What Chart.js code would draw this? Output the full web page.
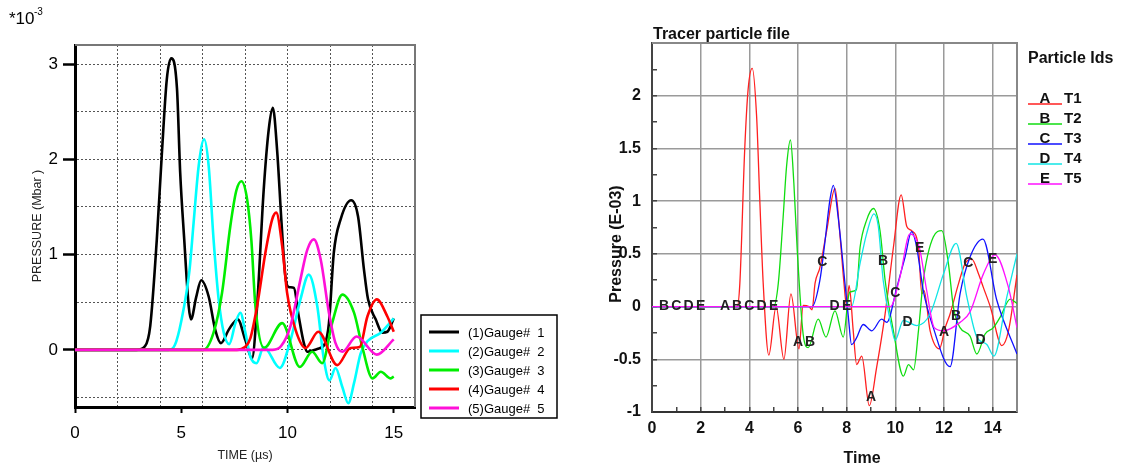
<!DOCTYPE html>
<html>
<head>
<meta charset="utf-8">
<script src="https://cdn.jsdelivr.net/npm/chart.js@4.4.1/dist/chart.umd.min.js"></script>
<style>
  html, body { margin: 0; padding: 0; background: #fff; }
  #wrap { position: relative; width: 1121px; height: 469px; overflow: hidden; }
  #left  { position: absolute; left: 0;     top: 0; }
  #right { position: absolute; left: 570px; top: 0; }
</style>
</head>
<body>
<div id="wrap">
  <canvas id="left" width="570" height="469"></canvas>
  <canvas id="right" width="551" height="469"></canvas>
</div>
<script>
// ============================================
// DATA - LEFT PANEL (gauge pressure, *10^-3 Mbar vs time in µs)
// ============================================
const gaugeLabels = ['(1)Gauge#  1', '(2)Gauge#  2', '(3)Gauge#  3', '(4)Gauge#  4', '(5)Gauge#  5'];
const gaugeColors = ['#000000', '#00ffff', '#00ee00', '#ff0000', '#ff10d8'];

const g1Time = [0, 2.9, 3.3, 3.54, 3.85, 4.08, 4.32, 4.53, 4.8, 4.95, 5.14, 5.35, 5.46, 5.7, 5.94, 6.29, 6.6, 6.87, 7.23, 7.45, 7.66, 8.02, 8.33, 8.57, 8.88, 9.12, 9.31, 9.51, 9.72, 9.9, 10.05, 10.3, 10.53, 10.77, 10.93, 11.4, 11.75, 11.95, 12.18, 12.5, 13.0, 13.32, 13.6, 13.79, 14.15, 14.46, 14.7, 15.0];
const g1Pres = [0, 0, 0.04, 0.25, 1.16, 2.03, 2.84, 3.06, 2.74, 1.86, 1.16, 0.46, 0.32, 0.55, 0.73, 0.56, 0.21, 0.07, 0.21, 0.28, 0.32, 0.1, -0.09, 0.46, 1.68, 2.32, 2.54, 2.1, 1.33, 0.77, 0.66, 0.65, 0.35, 0.07, -0.02, 0.01, 0.06, 0.28, 1.02, 1.37, 1.57, 1.4, 0.84, 0.53, 0.32, 0.18, 0.19, 0.33];

const g2Time = [0, 4.4, 4.7, 5.0, 5.39, 5.58, 5.82, 6.08, 6.29, 6.52, 6.76, 7.0, 7.26, 7.55, 7.78, 8.02, 8.25, 8.54, 8.88, 9.64, 10.14, 10.61, 11.0, 11.4, 11.71, 11.98, 12.26, 12.58, 12.86, 13.13, 13.44, 13.76, 14.39, 15.0];
const g2Pres = [0, 0, 0.05, 0.3, 0.84, 1.33, 1.93, 2.21, 1.93, 1.16, 0.53, 0.18, 0.06, 0.28, 0.39, 0.18, -0.07, -0.14, 0.03, -0.19, 0.1, 0.53, 0.79, 0.46, -0.1, -0.32, -0.19, -0.39, -0.56, -0.35, -0.04, 0.09, 0.18, 0.33];

const g3Time = [0, 6.04, 6.52, 6.92, 7.31, 7.59, 7.83, 8.1, 8.3, 8.49, 8.9, 9.75, 10.58, 11.16, 11.63, 12.1, 12.58, 13.13, 13.52, 14.0, 14.39, 14.86, 15.0];
const g3Pres = [0, 0, 0.18, 0.6, 1.3, 1.67, 1.77, 1.58, 1.15, 0.46, 0.02, 0.28, -0.18, -0.02, -0.14, 0.28, 0.58, 0.39, 0.03, -0.3, -0.23, -0.3, -0.28];

const g4Time = [0, 7.62, 8.0, 8.25, 8.57, 8.96, 9.28, 9.47, 9.75, 9.98, 10.38, 10.85, 11.45, 12.34, 12.97, 13.4, 13.76, 14.2, 14.7, 15.0];
const g4Pres = [0, 0, 0.03, 0.12, 0.46, 1.02, 1.37, 1.44, 1.09, 0.6, 0.21, 0.02, 0.19, -0.16, 0.02, 0.03, 0.35, 0.53, 0.35, 0.19];

const g5Time = [0, 9.3, 9.7, 10.14, 10.61, 10.93, 11.24, 11.56, 11.95, 12.26, 12.58, 13.25, 14.2, 15.0];
const g5Pres = [0, 0, 0.04, 0.25, 0.74, 1.05, 1.16, 0.95, 0.39, 0.07, -0.02, 0.14, -0.05, 0.11];

// ============================================
// DATA - RIGHT PANEL (tracer particles, pressure E-03 vs time)
// ============================================
const tracerIds     = ['T1', 'T2', 'T3', 'T4', 'T5'];
const tracerLetters = ['A', 'B', 'C', 'D', 'E'];
const tracerColors  = ['#ff2020', '#10dd10', '#1010ff', '#10e5e5', '#ff10ff'];

const t1Time = [0, 3.5, 3.61, 3.81, 3.95, 4.12, 4.3, 4.43, 4.57, 4.8, 5.1, 5.42, 5.71, 6.04, 6.21, 6.45, 6.58, 6.7, 6.9, 7.18, 7.52, 7.72, 7.89, 8.0, 8.1, 8.27, 8.41, 8.62, 8.93, 9.23, 9.58, 9.92, 10.24, 10.47, 10.67, 10.95, 11.09, 11.18, 11.43, 11.81, 12.05, 12.25, 12.6, 12.87, 13.14, 13.42, 13.62, 13.9, 14.38, 14.65, 15.0];
const t1Pres = [0, 0, 0.22, 1.49, 2.06, 2.26, 1.8, 1.01, 0.22, -0.46, 0.0, -0.5, 0.12, -0.4, 0.01, 0.0, -0.03, 0.22, 0.37, 0.72, 1.12, 0.69, 0.22, 0.0, 0.2, -0.23, -0.55, -0.47, -0.94, -0.58, -0.07, 0.56, 1.06, 0.76, 0.72, 0.56, 0.12, 0.15, -0.23, -0.4, -0.2, -0.07, 0.22, 0.41, 0.45, 0.31, 0.18, 0.0, -0.37, -0.23, 0.3];

const t2Time = [0, 5.0, 5.19, 5.39, 5.53, 5.69, 5.83, 5.97, 6.21, 6.42, 6.83, 7.15, 7.52, 7.86, 8.07, 8.14, 8.4, 8.55, 8.82, 9.1, 9.37, 9.58, 9.92, 10.33, 10.54, 10.75, 10.95, 11.15, 11.56, 11.91, 12.18, 12.39, 12.66, 13.07, 13.35, 13.69, 14.03, 14.31, 14.72, 15.0];
const t2Pres = [0, 0, 0.22, 0.85, 1.33, 1.58, 1.17, 0.53, -0.26, -0.39, -0.12, -0.29, -0.04, -0.29, 0.09, 0.14, 0.16, 0.56, 0.82, 0.93, 0.72, 0.25, -0.23, -0.66, -0.55, -0.6, -0.23, 0.25, 0.66, 0.72, 0.41, -0.01, -0.2, -0.28, -0.45, -0.26, -0.2, -0.1, 0.07, 0.03];

const t3Time = [0, 6.58, 6.9, 7.1, 7.31, 7.45, 7.65, 7.93, 8.07, 8.2, 8.4, 8.68, 9.03, 9.44, 9.65, 10.06, 10.4, 10.67, 10.88, 11.15, 11.56, 12.25, 12.66, 13.07, 13.6, 14.17, 15.0];
const t3Pres = [0, 0, 0.25, 0.6, 1.01, 1.15, 0.85, 0.22, -0.1, -0.36, -0.3, -0.17, -0.23, -0.12, -0.15, 0.18, 0.47, 0.71, 0.56, 0.15, -0.2, -0.57, 0.12, 0.47, 0.64, 0.06, -0.45];

const t4Time = [0, 8.2, 8.55, 8.82, 9.12, 9.3, 9.5, 9.85, 9.99, 10.33, 10.88, 11.43, 11.98, 12.5, 12.94, 13.35, 13.76, 14.05, 14.58, 15.0];
const t4Pres = [0, 0, 0.41, 0.69, 0.88, 0.76, 0.25, -0.2, -0.32, -0.13, -0.18, -0.07, 0.31, 0.6, 0.09, -0.29, -0.36, -0.47, 0.09, 0.5];

const t5Time = [0, 9.8, 10.19, 10.6, 10.8, 11.0, 11.29, 11.6, 11.98, 12.66, 13.07, 13.62, 14.1, 14.65, 15.0];
const t5Pres = [0, 0, 0.28, 0.69, 0.66, 0.55, 0.15, -0.2, -0.23, -0.15, -0.05, 0.31, 0.49, 0.18, -0.2];

// times at which each particle's id letter is printed on its curve
const markA = [3, 6, 9, 12];
const markB = [0.5, 3.5, 6.5, 9.5, 12.5];
const markC = [1, 4, 7, 10, 13];
const markD = [1.5, 4.5, 7.5, 10.5, 13.5];
const markE = [2, 5, 8, 11, 14];

// ============================================
// HELPERS
// ============================================
const FONT = 'Liberation Sans, Arial, sans-serif';
Chart.defaults.font.family = FONT;

const toPoints = (t, p) => t.map((x, i) => ({ x, y: p[i] }));
const isHalf = v => Math.abs(v * 2 - Math.round(v * 2)) < 1e-6;

function valueAt(points, t) {
  for (let k = 1; k < points.length; k++) {
    if (points[k].x >= t) {
      const a = points[k - 1], b = points[k];
      return a.y + (b.y - a.y) * (t - a.x) / (b.x - a.x);
    }
  }
  return points[points.length - 1].y;
}

// ============================================
// 1. LEFT PANEL: GAUGE HISTORIES
// ============================================
const gaugeSeries = [
  toPoints(g1Time, g1Pres), toPoints(g2Time, g2Pres), toPoints(g3Time, g3Pres),
  toPoints(g4Time, g4Pres), toPoints(g5Time, g5Pres)
];

const leftDecor = {
  id: 'leftDecor',
  beforeDatasetsDraw(chart) {
    const { ctx, chartArea: a } = chart;
    ctx.save();
    ctx.strokeStyle = '#777';
    ctx.lineWidth = 2;
    ctx.beginPath();
    ctx.moveTo(a.left, a.top);
    ctx.lineTo(a.right, a.top);
    ctx.lineTo(a.right, a.bottom);
    ctx.stroke();
    ctx.restore();
  },
  afterDraw(chart) {
    const ctx = chart.ctx;
    ctx.save();
    // exponent note
    ctx.fillStyle = '#000';
    ctx.textBaseline = 'alphabetic';
    ctx.font = `17px ${FONT}`;
    ctx.fillText('*10', 9, 24);
    ctx.font = `10px ${FONT}`;
    ctx.fillText('-3', 34, 15);

    // legend box
    ctx.fillStyle = '#fff';
    ctx.fillRect(421, 315, 136, 103);
    ctx.strokeStyle = '#000';
    ctx.lineWidth = 1.5;
    ctx.strokeRect(421, 315, 136, 103);
    ctx.font = `13px ${FONT}`;
    ctx.textBaseline = 'middle';
    chart.data.datasets.forEach((ds, i) => {
      const y = 332 + 19 * i;
      ctx.strokeStyle = ds.borderColor;
      ctx.lineWidth = 3;
      ctx.beginPath();
      ctx.moveTo(429, y);
      ctx.lineTo(459, y);
      ctx.stroke();
      ctx.fillStyle = '#000';
      ctx.fillText(ds.label, 468, y + 1);
    });
    ctx.restore();
  }
};

new Chart(document.getElementById('left'), {
  type: 'line',
  data: {
    datasets: gaugeSeries.map((pts, i) => ({
      label: gaugeLabels[i],
      data: pts,
      borderColor: gaugeColors[i],
      borderWidth: 2.6,
      pointRadius: 0,
      fill: false,
      cubicInterpolationMode: 'monotone',
      order: 4 - i
    }))
  },
  options: {
    responsive: false,
    animation: false,
    events: [],
    layout: { padding: { left: 0, top: 45, right: 155, bottom: 0 } },
    plugins: { legend: { display: false }, tooltip: { enabled: false } },
    scales: {
      x: {
        type: 'linear',
        min: 0,
        max: 16,
        afterFit: s => { s.height = 62; },
        ticks: {
          stepSize: 1,
          autoSkip: false,
          maxRotation: 0,
          padding: 10,
          color: '#000',
          font: { size: 17 },
          callback: v => (v % 5 === 0 && v < 16) ? String(v) : ''
        },
        grid: {
          color: ctx => (ctx.tick && ctx.tick.value % 2 === 0 && ctx.tick.value > 0 && ctx.tick.value < 16) ? '#555' : 'transparent',
          lineWidth: 1,
          tickLength: 6,
          tickWidth: 2,
          tickColor: ctx => (ctx.tick && ctx.tick.value % 5 === 0 && ctx.tick.value < 16) ? '#000' : 'transparent'
        },
        border: { color: '#000', width: 3, dash: [2, 2] },
        title: {
          display: true,
          text: 'TIME (µs)',
          color: '#222',
          font: { size: 12.5 },
          padding: { top: 0, bottom: 6 }
        }
      },
      y: {
        type: 'linear',
        min: -0.6,
        max: 3.2,
        afterFit: s => { s.width = 75; },
        ticks: {
          stepSize: 0.5,
          includeBounds: false,
          autoSkip: false,
          padding: 5,
          color: '#000',
          font: { size: 17 },
          callback: v => Number.isInteger(v) ? String(v) : ''
        },
        grid: {
          color: ctx => (ctx.tick && isHalf(ctx.tick.value)) ? '#555' : 'transparent',
          lineWidth: 1,
          tickLength: 12,
          tickWidth: 2.5,
          tickColor: ctx => (ctx.tick && Number.isInteger(ctx.tick.value)) ? '#000' : 'transparent'
        },
        border: { color: '#000', width: 3, dash: [2, 2] },
        title: {
          display: true,
          text: 'PRESSURE (Mbar )',
          color: '#222',
          font: { size: 12.5 },
          padding: { top: 30, bottom: 0 }
        }
      }
    }
  },
  plugins: [leftDecor]
});

// ============================================
// 2. RIGHT PANEL: TRACER PARTICLE FILE
// ============================================
const tracerSeries = [
  toPoints(t1Time, t1Pres), toPoints(t2Time, t2Pres), toPoints(t3Time, t3Pres),
  toPoints(t4Time, t4Pres), toPoints(t5Time, t5Pres)
];
const tracerMarks = [markA, markB, markC, markD, markE];

const rightDecor = {
  id: 'rightDecor',
  beforeDatasetsDraw(chart) {
    const { ctx, chartArea: a } = chart;
    ctx.save();
    ctx.strokeStyle = '#888';
    ctx.lineWidth = 2;
    ctx.beginPath();
    ctx.moveTo(a.left, a.top);
    ctx.lineTo(a.right, a.top);
    ctx.lineTo(a.right, a.bottom);
    ctx.stroke();
    ctx.restore();
  },
  afterDatasetsDraw(chart) {
    const { ctx, scales: { x, y } } = chart;
    ctx.save();
    ctx.font = `bold 14px ${FONT}`;
    ctx.fillStyle = '#222';
    ctx.textAlign = 'center';
    ctx.textBaseline = 'middle';
    chart.data.datasets.forEach((ds, i) => {
      tracerMarks[i].forEach(t => {
        ctx.fillText(tracerLetters[i], x.getPixelForValue(t), y.getPixelForValue(valueAt(ds.data, t)));
      });
    });
    ctx.restore();
  },
  afterDraw(chart) {
    const ctx = chart.ctx;
    ctx.save();
    ctx.fillStyle = '#111';
    ctx.textBaseline = 'alphabetic';
    ctx.font = `bold 16px ${FONT}`;
    ctx.fillText('Tracer particle file', 83, 39);
    ctx.fillText('Particle Ids', 458, 63);

    ctx.textAlign = 'center';
    ctx.textBaseline = 'middle';
    ctx.fillText('Time', 292, 459);
    ctx.save();
    ctx.translate(47, 244);
    ctx.rotate(-Math.PI / 2);
    ctx.fillText('Pressure (E-03)', 0, 0);
    ctx.restore();

    // legend entries
    ctx.font = `bold 15px ${FONT}`;
    ctx.textBaseline = 'alphabetic';
    chart.data.datasets.forEach((ds, i) => {
      const base = 103 + 20 * i;
      ctx.strokeStyle = ds.borderColor;
      ctx.lineWidth = 1.5;
      ctx.beginPath();
      ctx.moveTo(458, base + 1);
      ctx.lineTo(492, base + 1);
      ctx.stroke();
      ctx.fillStyle = '#111';
      ctx.textAlign = 'center';
      ctx.fillText(tracerLetters[i], 475, base);
      ctx.textAlign = 'left';
      ctx.fillText(ds.label, 494, base);
    });
    ctx.restore();
  }
};

new Chart(document.getElementById('right'), {
  type: 'line',
  data: {
    datasets: tracerSeries.map((pts, i) => ({
      label: tracerIds[i],
      data: pts,
      borderColor: tracerColors[i],
      borderWidth: 1.3,
      pointRadius: 0,
      fill: false,
      cubicInterpolationMode: 'monotone',
      order: 4 - i
    }))
  },
  options: {
    responsive: false,
    animation: false,
    events: [],
    layout: { padding: { left: 0, top: 43, right: 104, bottom: 0 } },
    plugins: { legend: { display: false }, tooltip: { enabled: false } },
    scales: {
      x: {
        type: 'linear',
        min: 0,
        max: 15,
        afterFit: s => { s.height = 57; },
        ticks: {
          stepSize: 1,
          autoSkip: false,
          maxRotation: 0,
          padding: 12,
          color: '#111',
          font: { size: 16, weight: 'bold' },
          callback: v => (v % 2 === 0) ? String(v) : ''
        },
        grid: {
          color: ctx => (ctx.tick && ctx.tick.value % 2 === 0 && ctx.tick.value > 0 && ctx.tick.value < 15) ? '#9a9a9a' : 'transparent',
          lineWidth: 1.5,
          tickLength: -5,
          tickWidth: 1.5,
          tickColor: '#444'
        },
        border: { color: '#333', width: 2 }
      },
      y: {
        type: 'linear',
        min: -1,
        max: 2.5,
        afterFit: s => { s.width = 82; },
        ticks: {
          stepSize: 0.25,
          autoSkip: false,
          padding: 16,
          color: '#111',
          font: { size: 16, weight: 'bold' },
          callback: v => (isHalf(v) && v < 2.5) ? String(v) : ''
        },
        grid: {
          color: ctx => (ctx.tick && isHalf(ctx.tick.value) && ctx.tick.value > -1 && ctx.tick.value < 2.5) ? '#9a9a9a' : 'transparent',
          lineWidth: 1.5,
          tickLength: -5,
          tickWidth: 1.5,
          tickColor: '#444'
        },
        border: { color: '#444', width: 2 }
      }
    }
  },
  plugins: [rightDecor]
});
</script>
</body>
</html>
